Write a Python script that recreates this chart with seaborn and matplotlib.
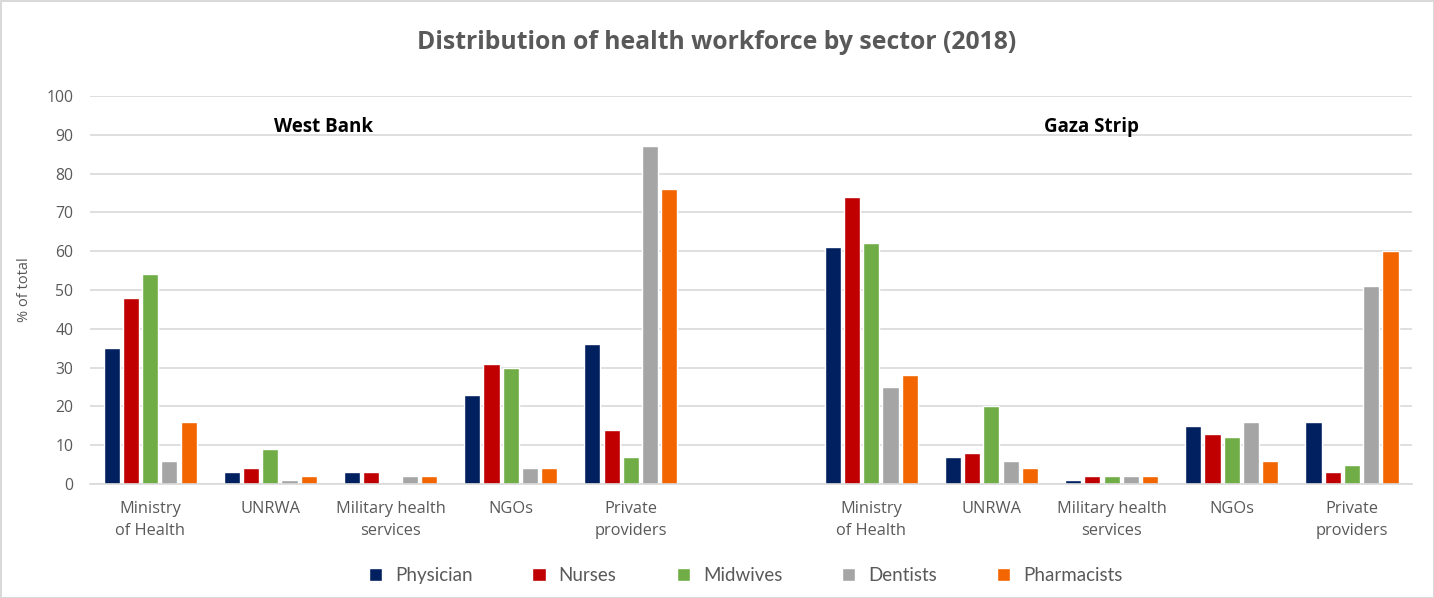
import matplotlib
matplotlib.use("Agg")
import matplotlib.pyplot as plt
import pandas as pd
import seaborn as sns

# Data (% of total)
sectors = ["Ministry\nof Health", "UNRWA", "Military health\nservices", "NGOs", "Private\nproviders"]
professions = ["Physician", "Nurses", "Midwives", "Dentists", "Pharmacists"]

west_bank = {
    "Physician":   [35, 3, 3, 23, 36],
    "Nurses":      [48, 4, 3, 31, 14],
    "Midwives":    [54, 9, 0, 30, 7],
    "Dentists":    [6, 1, 2, 4, 87],
    "Pharmacists": [16, 2, 2, 4, 76],
}
gaza = {
    "Physician":   [61, 7, 1, 15, 16],
    "Nurses":      [74, 8, 2, 13, 3],
    "Midwives":    [62, 20, 2, 12, 5],
    "Dentists":    [25, 6, 2, 16, 51],
    "Pharmacists": [28, 4, 2, 6, 60],
}

colors = ["#002060", "#C00000", "#70AD47", "#A5A5A5", "#F26500"]

# build long table; empty slot between the two regions
wb_keys = ["WB " + s for s in sectors]
gz_keys = ["GZ " + s for s in sectors]
order = wb_keys + ["gap"] + gz_keys
tick_labels = sectors + [""] + sectors

rows = []
for prof in professions:
    for k, v in zip(wb_keys, west_bank[prof]):
        rows.append({"cat": k, "prof": prof, "pct": v})
    for k, v in zip(gz_keys, gaza[prof]):
        rows.append({"cat": k, "prof": prof, "pct": v})
df = pd.DataFrame(rows)

sns.set_style("white")
plt.rcParams["font.family"] = ["Open Sans", "DejaVu Sans"]

fig = plt.figure(figsize=(14.34, 5.98), dpi=100)
fig.patch.set_edgecolor("#D9D9D9")
fig.patch.set_linewidth(2)
ax = fig.add_axes([0.0628, 0.1906, 0.9219, 0.6489])

sns.barplot(data=df, x="cat", y="pct", hue="prof", order=order,
            hue_order=professions, palette=colors, width=0.8, gap=0.16,
            saturation=1, ax=ax)

ax.set_ylim(0, 100)
ax.set_yticks(range(0, 101, 10))
ax.set_xlim(-0.5, len(order) - 0.5)
ax.yaxis.grid(True, color="#D9D9D9", linewidth=1.2)
ax.set_axisbelow(True)
for side in ["top", "right", "left"]:
    ax.spines[side].set_visible(False)
ax.spines["bottom"].set_color("#D9D9D9")
ax.spines["bottom"].set_linewidth(1.2)

ax.set_xticks(range(len(order)))
ax.set_xticklabels(tick_labels, fontsize=11.8, color="#595959", linespacing=1.5)
ax.tick_params(axis="x", length=0, pad=12)
ax.tick_params(axis="y", length=0, labelsize=11.3, labelcolor="#595959", pad=12)
ax.set_xlabel("")
ax.set_ylabel("% of total", fontsize=10.5, color="#595959", labelpad=10)

ax.text(1.44, 92, "West Bank", fontsize=13.5, fontweight="bold", color="black",
        ha="center", va="center")
ax.text(7.83, 92, "Gaza Strip", fontsize=13.5, fontweight="bold", color="black",
        ha="center", va="center")

fig.suptitle("Distribution of health workforce by sector (2018)", y=0.95,
             fontsize=17.8, fontweight="bold", color="#595959")

handles, labels = ax.get_legend_handles_labels()
ax.get_legend().remove()
fig.legend(handles, labels, loc="center", bbox_to_anchor=(0.52, 0.038), ncol=5,
           frameon=False, handlelength=0.7, handleheight=0.7,
           columnspacing=3.2, handletextpad=0.7, labelcolor="#595959",
           prop={"family": ["Lato", "DejaVu Sans"], "size": 13.5})

fig.savefig("out.png", dpi=100)
